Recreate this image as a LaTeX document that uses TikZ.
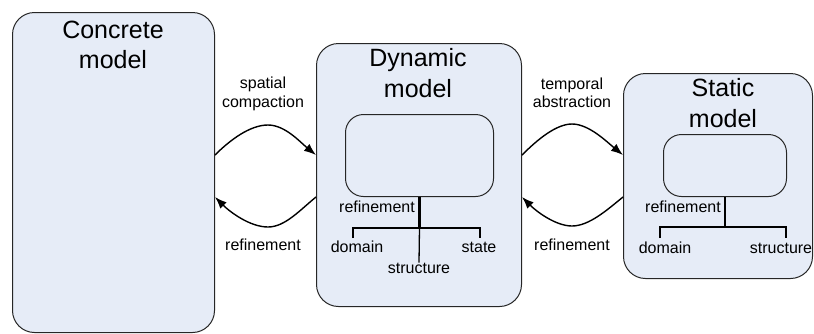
\documentclass[tikz,border=0pt]{standalone}
\usepackage{fontspec}
\setmainfont{Liberation Sans}
\usetikzlibrary{arrows.meta}
\definecolor{boxfill}{HTML}{E6ECF7}
\definecolor{edge}{HTML}{262626}
\begin{document}
\begin{tikzpicture}[x=1pt,y=-1pt,
  outer/.style={draw=edge, fill=boxfill, rounded corners=22pt, line width=1pt, inner sep=0pt, anchor=north west},
  inner/.style={draw=edge, rounded corners=18pt, line width=1pt, inner sep=0pt, anchor=north west},
  big/.style={font=\fontsize{25}{29}\selectfont, anchor=base, inner sep=0pt},
  small/.style={font=\fontsize{16}{18.5}\selectfont, align=center, inner sep=0pt},
  flow/.style={draw=black, line width=1.4pt, -{Latex[length=12pt,width=9pt]}},
  stem/.style={draw=black, line width=2.2pt},
  branch/.style={draw=black, line width=1.3pt}]
\useasboundingbox (0,0) rectangle (814,333);

% model boxes
\node[outer, minimum width=202pt, minimum height=320pt] (concrete) at (12,12) {};
\node[outer, minimum width=205pt, minimum height=263pt] (dynamic) at (316,43) {};
\node[outer, minimum width=189pt, minimum height=205pt] (static) at (623,73) {};

% titles
\node[big] (concreteA) at (113,38) {Concrete};
\node[big] (concreteB) at (113,68) {model};
\node[big] (dynamicA) at (418,66) {Dynamic};
\node[big] (dynamicB) at (418,97) {model};
\node[big] (staticA) at (723,96) {Static};
\node[big] (staticB) at (723,127) {model};

% inner boxes
\node[inner, minimum width=148pt, minimum height=82pt] (dyninner) at (345,114) {};
\node[inner, minimum width=123pt, minimum height=62pt] (statinner) at (663,134) {};

% transitions between models
\coordinate (c1) at (concrete.north east |- 0,155);
\coordinate (c2) at (concrete.north east |- 0,197);
\coordinate (d1) at (dynamic.north west |- 0,155);
\coordinate (d2) at (dynamic.north west |- 0,197);
\coordinate (d3) at (dynamic.north east |- 0,155);
\coordinate (d4) at (dynamic.north east |- 0,197);
\coordinate (s1) at (static.north west |- 0,155);
\coordinate (s2) at (static.north west |- 0,197);

\draw[flow] (c1) .. controls (230,140) and (250,125) .. (268,125)
                 .. controls (285,125) and (300,142) .. (d1);
\draw[flow] (d2) .. controls (300,210) and (285,227) .. (268,227)
                 .. controls (250,227) and (230,212) .. (c2);
\draw[flow] (d3) .. controls (537,140) and (556,124) .. (572,124)
                 .. controls (589,124) and (607,142) .. (s1);
\draw[flow] (s2) .. controls (607,210) and (589,226) .. (572,226)
                 .. controls (556,226) and (537,212) .. (d4);

\node[small] (spatial) at (263,94) {spatial\\compaction};
\node[small] (refineA) at (263,245) {refinement};
\node[small] (temporal) at (572,93) {temporal\\abstraction};
\node[small] (refineB) at (572,245) {refinement};

% refinement tree of the dynamic model
\coordinate (dj) at (dyninner.south |- 0,228);
\coordinate (dl) at (353,228);
\coordinate (dr) at (480,228);
\node[small] (ddomain) at (357,247) {domain};
\node[small] (dstate) at (479,247) {state};
\node[small] (dstruct) at (419,268) {structure};
\node[small, anchor=east] (drefine) at (415,207) {refinement};
\draw[stem] (dyninner.south) -- (dj);
\draw[branch] (dl |- 0,238) -- (dl) -- (dr) -- (dr |- 0,238);
\draw[branch] (dj) -- (dstruct.north);

% refinement tree of the static model
\coordinate (sj) at (statinner.south |- 0,227);
\coordinate (sl) at (660,227);
\coordinate (sr) at (786,227);
\node[small] (sdomain) at (665,248) {domain};
\node[small] (sstruct) at (781,248) {structure};
\node[small, anchor=east] (srefine) at (721,207) {refinement};
\draw[branch] (statinner.south) -- (sj);
\draw[branch] (sl |- 0,238) -- (sl) -- (sr) -- (sr |- 0,238);
\end{tikzpicture}
\end{document}
